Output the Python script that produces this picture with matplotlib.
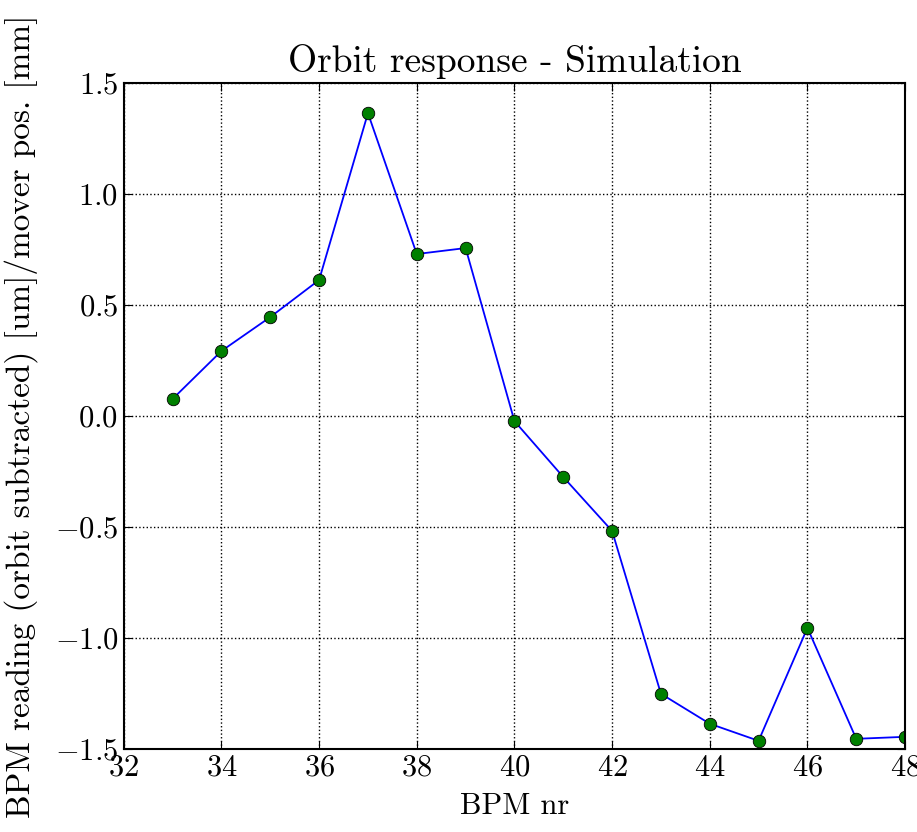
import numpy as np
import matplotlib
matplotlib.use('Agg')
import matplotlib.pyplot as plt

# Computer Modern look, like the old LaTeX-rendered plots
plt.rcParams['font.family'] = 'serif'
plt.rcParams['font.serif'] = ['cmr10']
plt.rcParams['mathtext.fontset'] = 'cm'
plt.rcParams['axes.formatter.use_mathtext'] = True
plt.rcParams['axes.unicode_minus'] = True

# BPM numbers and response values
bpm_nr = [33, 34, 35, 36, 37, 38, 39, 40, 41, 42, 43, 44, 45, 46, 47, 48]
response = [0.077, 0.293, 0.446, 0.613, 1.365, 0.730, 0.757, -0.023,
            -0.275, -0.518, -1.252, -1.387, -1.464, -0.955, -1.455, -1.446]

x_ticks = [32, 34, 36, 38, 40, 42, 44, 46, 48]
y_ticks = [-1.5, -1.0, -0.5, 0.0, 0.5, 1.0, 1.5]

fig = plt.figure(figsize=(9.17, 8.32), dpi=100)
ax = fig.add_axes([0.135, 0.1, 0.852, 0.8])

ax.plot(bpm_nr, response, '-', color=(0, 0, 1), linewidth=1.3)
ax.plot(bpm_nr, response, 'o', color=(0, 0.5, 0), markeredgecolor='black',
        markeredgewidth=0.6, markersize=9)

ax.set_xlim(32, 48)
ax.set_ylim(-1.5, 1.5)
ax.set_xticks(x_ticks)
ax.set_yticks(y_ticks)
ax.set_yticklabels(['$%.1f$' % v for v in y_ticks])
ax.tick_params(direction='in', top=True, right=True, labelsize=22, length=6, pad=4)
ax.grid(True, linestyle=':', color='black', linewidth=1.0)

for sp in ax.spines.values():
    sp.set_linewidth(1.5)

ax.set_title('Orbit response - Simulation', fontsize=27, pad=8)
ax.set_xlabel('BPM nr', fontsize=22, labelpad=8)
ax.set_ylabel('BPM reading (orbit subtracted) [um]/mover pos. [mm]', fontsize=24)
ax.yaxis.set_label_coords(-0.11, 0.5)

plt.savefig('out.png', dpi=100)
